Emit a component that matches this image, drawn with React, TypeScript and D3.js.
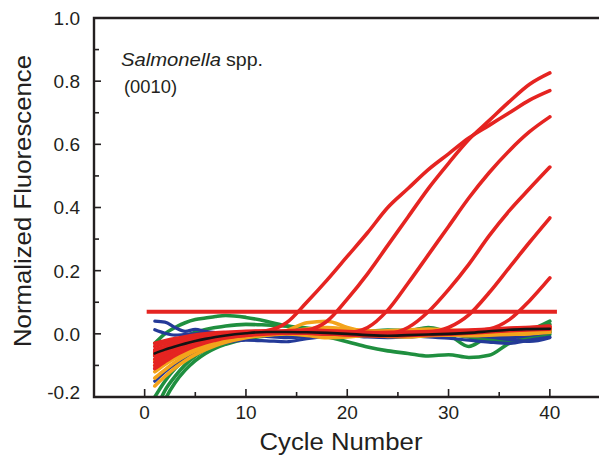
import React, { useEffect, useRef } from 'react';
import * as d3 from 'd3';

// Cycles at which each trace is sampled
const CYCLES = [1, 2, 3, 4, 5, 6, 7, 8, 10, 12, 14, 16, 18, 20, 22, 24, 26, 28, 30, 32, 34, 36, 38, 40];

// Amplifying (positive) traces
const RED_AMP = [
  [-0.04, -0.03, -0.02, -0.012, -0.006, -0.002, 0.0, 0.003, 0.006, 0.01, 0.035, 0.1, 0.17, 0.245, 0.32, 0.4, 0.46, 0.52, 0.57, 0.62, 0.66, 0.7, 0.74, 0.77],
  [-0.06, -0.045, -0.033, -0.023, -0.015, -0.008, -0.003, 0.0, 0.004, 0.006, 0.008, 0.012, 0.04, 0.11, 0.19, 0.28, 0.37, 0.46, 0.54, 0.615, 0.675, 0.735, 0.79, 0.826],
  [-0.05, -0.04, -0.03, -0.02, -0.012, -0.006, -0.002, 0.001, 0.004, 0.006, 0.005, 0.004, 0.003, 0.004, 0.02, 0.075, 0.16, 0.25, 0.34, 0.43, 0.51, 0.58, 0.64, 0.687],
  [-0.08, -0.062, -0.048, -0.036, -0.026, -0.018, -0.012, -0.007, -0.001, 0.003, 0.004, 0.003, 0.001, 0.0, -0.002, 0.0, 0.02, 0.07, 0.14, 0.22, 0.31, 0.39, 0.46, 0.528],
  [-0.07, -0.055, -0.043, -0.032, -0.023, -0.016, -0.01, -0.006, 0.0, 0.003, 0.004, 0.002, 0.0, -0.002, -0.003, -0.002, 0.0, 0.004, 0.02, 0.06, 0.13, 0.21, 0.29, 0.367],
  [-0.1, -0.08, -0.062, -0.047, -0.035, -0.025, -0.017, -0.011, -0.004, 0.001, 0.003, 0.002, 0.0, -0.003, -0.005, -0.004, -0.002, 0.0, 0.003, 0.008, 0.015, 0.045, 0.105, 0.177],
];

// Non-amplifying red traces
const RED_FLAT = [
  [-0.03, -0.022, -0.015, -0.009, -0.004, 0.0, 0.003, 0.005, 0.008, 0.009, 0.008, 0.006, 0.004, 0.003, 0.002, 0.004, 0.005, 0.007, 0.01, 0.012, 0.015, 0.018, 0.02, 0.022],
  [-0.055, -0.043, -0.032, -0.023, -0.016, -0.01, -0.005, -0.002, 0.002, 0.005, 0.006, 0.004, 0.001, -0.002, -0.004, -0.005, -0.004, -0.002, 0.0, 0.004, 0.008, 0.012, 0.014, 0.016],
  [-0.09, -0.072, -0.056, -0.043, -0.032, -0.023, -0.016, -0.01, -0.003, 0.002, 0.004, 0.003, 0.0, -0.003, -0.005, -0.006, -0.005, -0.003, -0.001, 0.002, 0.006, 0.01, 0.013, 0.015],
  [-0.11, -0.088, -0.068, -0.052, -0.039, -0.028, -0.02, -0.013, -0.005, 0.0, 0.003, 0.004, 0.002, 0.0, -0.002, -0.003, -0.001, 0.001, 0.003, 0.006, 0.01, 0.012, 0.016, 0.02],
  [-0.065, -0.05, -0.037, -0.027, -0.019, -0.012, -0.007, -0.003, 0.002, 0.006, 0.01, 0.012, 0.01, 0.007, 0.005, 0.004, 0.005, 0.006, 0.008, 0.01, 0.013, 0.016, 0.02, 0.025],
];

const ORANGE = [
  [-0.1, -0.08, -0.063, -0.049, -0.037, -0.027, -0.019, -0.013, -0.005, 0.0, 0.004, 0.006, 0.005, 0.002, 0.0, -0.002, 0.0, 0.003, 0.004, 0.006, 0.008, 0.01, 0.012, 0.014],
  [-0.12, -0.097, -0.077, -0.06, -0.046, -0.035, -0.025, -0.017, -0.007, 0.0, 0.01, 0.035, 0.04, 0.02, 0.005, -0.003, -0.005, -0.002, 0.002, 0.005, 0.008, 0.01, 0.015, 0.02],
  [-0.14, -0.114, -0.09, -0.07, -0.054, -0.04, -0.03, -0.022, -0.01, -0.004, 0.0, -0.005, -0.012, -0.01, -0.005, -0.008, -0.01, -0.006, -0.004, -0.002, 0.0, 0.003, 0.005, 0.008],
  [-0.165, -0.135, -0.108, -0.085, -0.066, -0.05, -0.037, -0.027, -0.012, -0.004, 0.002, 0.006, 0.008, 0.01, 0.008, 0.01, 0.012, 0.015, 0.012, 0.01, 0.012, 0.015, 0.018, 0.022],
  [-0.085, -0.068, -0.053, -0.04, -0.03, -0.022, -0.015, -0.01, -0.003, 0.002, 0.006, 0.015, 0.02, 0.015, 0.01, 0.006, 0.003, 0.0, -0.003, -0.006, -0.004, -0.002, 0.0, 0.005],
];

const GREEN = [
  [-0.03, 0.0, 0.02, 0.035, 0.045, 0.05, 0.055, 0.058, 0.052, 0.04, 0.025, 0.015, 0.01, 0.006, 0.008, 0.012, 0.01, 0.02, 0.006, 0.0, -0.004, 0.0, 0.012, 0.04],
  [-0.07, -0.045, -0.025, -0.008, 0.005, 0.014, 0.02, 0.025, 0.03, 0.028, 0.025, 0.018, 0.01, 0.004, 0.0, -0.002, 0.0, 0.002, -0.005, -0.04, -0.012, -0.028, -0.01, 0.01],
  [-0.25, -0.18, -0.135, -0.098, -0.07, -0.05, -0.036, -0.026, -0.013, -0.006, -0.002, -0.004, -0.01, -0.025, -0.042, -0.054, -0.062, -0.07, -0.066, -0.075, -0.068, -0.03, -0.012, -0.002],
  [-0.2, -0.15, -0.11, -0.08, -0.058, -0.042, -0.03, -0.021, -0.009, -0.002, 0.002, 0.0, -0.003, -0.006, -0.004, -0.002, 0.0, 0.004, 0.0, -0.01, -0.02, -0.025, -0.008, 0.005],
  [-0.3, -0.21, -0.155, -0.115, -0.085, -0.062, -0.045, -0.033, -0.016, -0.007, -0.002, 0.0, 0.003, 0.005, 0.008, 0.01, 0.005, 0.0, 0.002, 0.008, 0.005, 0.002, 0.006, 0.03],
];

const BLUE = [
  [0.04, 0.037, 0.02, 0.008, 0.014, 0.008, 0.004, 0.002, -0.004, -0.008, -0.012, -0.01, -0.006, -0.004, -0.002, 0.0, -0.004, -0.01, -0.014, -0.02, -0.026, -0.03, -0.02, -0.01],
  [0.013, 0.002, -0.004, -0.002, 0.0, 0.002, 0.003, 0.004, 0.003, 0.0, -0.004, -0.002, 0.002, 0.004, 0.0, -0.002, 0.0, 0.002, 0.004, 0.0, -0.008, -0.012, -0.005, 0.005],
  [-0.15, -0.12, -0.095, -0.074, -0.058, -0.046, -0.036, -0.028, -0.02, -0.022, -0.025, -0.015, -0.008, -0.006, -0.01, -0.012, -0.01, -0.006, -0.004, -0.006, -0.01, -0.018, -0.024, -0.012],
  [-0.11, -0.09, -0.07, -0.055, -0.042, -0.032, -0.024, -0.018, -0.01, -0.004, 0.0, 0.004, 0.006, 0.004, 0.002, 0.004, 0.006, 0.004, 0.0, -0.004, -0.006, -0.003, 0.0, 0.006],
];

// Mean of the negative traces
const MEAN = [-0.062, -0.05, -0.04, -0.031, -0.023, -0.016, -0.01, -0.005, 0.002, 0.006, 0.006, 0.005, 0.003, 0.0, -0.004, -0.006, -0.004, -0.002, 0.0, 0.003, 0.008, 0.013, 0.015, 0.016];

const THRESHOLD = 0.07;
const THRESHOLD_SPAN = [0.2, 40.7];

const X_TICKS = [0, 10, 20, 30, 40];
const X_MINOR = [5, 15, 25, 35];
const Y_TICKS = [-0.2, 0.0, 0.2, 0.4, 0.6, 0.8, 1.0];
const Y_MINOR = [-0.1, 0.1, 0.3, 0.5, 0.7, 0.9];

const W = 599;
const H = 457;
const FONT = "'Liberation Sans', Arial, Helvetica, sans-serif";
const AXIS = '#231f20';
const COLORS = {
  red: '#e52421',
  orange: '#f3a41c',
  green: '#1f8f3f',
  blue: '#243a98',
  black: '#141414',
};

// hyphen-minus for negative tick labels
const fmtTick = (v: number) => d3.format('.1f')(v).replace('\u2212', '-');

export default function App() {
  const ref = useRef<SVGSVGElement>(null);

  useEffect(() => {
    const svg = d3.select(ref.current);
    svg.selectAll('*').remove();

    const x = d3.scaleLinear().domain([-5, 45]).range([94, 600.5]);
    const y = d3.scaleLinear().domain([-0.2, 1.0]).range([397, 18]);

    svg.append('defs')
      .append('clipPath')
      .attr('id', 'plot-clip')
      .append('rect')
      .attr('x', 94)
      .attr('y', 18)
      .attr('width', W - 94)
      .attr('height', 397 - 18);

    const line = d3
      .line<number>()
      .x((_, i) => x(CYCLES[i]))
      .y((d) => y(d))
      .curve(d3.curveMonotoneX);

    const plot = svg.append('g').attr('clip-path', 'url(#plot-clip)');

    const drawGroup = (series: number[][], color: string, width: number) => {
      plot
        .append('g')
        .selectAll('path')
        .data(series)
        .join('path')
        .attr('d', (d) => line(d))
        .attr('fill', 'none')
        .attr('stroke', color)
        .attr('stroke-width', width)
        .attr('stroke-linejoin', 'round')
        .attr('stroke-linecap', 'round');
    };

    drawGroup(GREEN, COLORS.green, 3.6);
    drawGroup(BLUE, COLORS.blue, 3.2);
    drawGroup(ORANGE, COLORS.orange, 3.6);
    drawGroup(RED_FLAT, COLORS.red, 3.6);
    drawGroup(RED_AMP, COLORS.red, 3.6);
    drawGroup([MEAN], COLORS.black, 2.6);

    // threshold
    plot
      .append('line')
      .attr('x1', x(THRESHOLD_SPAN[0]))
      .attr('x2', x(THRESHOLD_SPAN[1]))
      .attr('y1', y(THRESHOLD))
      .attr('y2', y(THRESHOLD))
      .attr('stroke', COLORS.red)
      .attr('stroke-width', 4);

    // frame
    const frame = svg.append('g').attr('stroke', AXIS).attr('stroke-width', 2.4).attr('fill', 'none');
    frame.append('path').attr('d', `M${W},${y(1.0)}H${x(-5)}V${y(-0.2)}H${W}`);

    // ticks (inside)
    const ticks = svg.append('g').attr('stroke', AXIS).attr('stroke-width', 1.6);
    X_TICKS.forEach((t) => {
      ticks.append('line').attr('x1', x(t)).attr('x2', x(t)).attr('y1', y(-0.2)).attr('y2', y(-0.2) - 8);
    });
    X_MINOR.forEach((t) => {
      ticks.append('line').attr('x1', x(t)).attr('x2', x(t)).attr('y1', y(-0.2)).attr('y2', y(-0.2) - 5);
    });
    Y_TICKS.forEach((t) => {
      ticks.append('line').attr('x1', x(-5)).attr('x2', x(-5) + 7).attr('y1', y(t)).attr('y2', y(t));
    });
    Y_MINOR.forEach((t) => {
      ticks.append('line').attr('x1', x(-5)).attr('x2', x(-5) + 5).attr('y1', y(t)).attr('y2', y(t));
    });

    const labels = svg.append('g').attr('font-family', FONT).attr('fill', '#231f20');
    Y_TICKS.forEach((t) => {
      labels
        .append('text')
        .attr('x', 80)
        .attr('y', y(t) + (t === -0.2 ? -5 : 0))
        .attr('dy', '0.36em')
        .attr('text-anchor', 'end')
        .attr('font-size', 19)
        .text(fmtTick(t));
    });
    X_TICKS.forEach((t) => {
      labels
        .append('text')
        .attr('x', x(t))
        .attr('y', 419)
        .attr('text-anchor', 'middle')
        .attr('font-size', 19)
        .text(String(t));
    });

    labels
      .append('text')
      .attr('x', 341)
      .attr('y', 450)
      .attr('text-anchor', 'middle')
      .attr('font-size', 23)
      .attr('textLength', 163)
      .attr('lengthAdjust', 'spacingAndGlyphs')
      .text('Cycle Number');

    labels
      .append('text')
      .attr('transform', 'translate(31,201) rotate(-90)')
      .attr('text-anchor', 'middle')
      .attr('font-size', 24)
      .attr('textLength', 292)
      .attr('lengthAdjust', 'spacingAndGlyphs')
      .text('Normalized Fluorescence');

    labels
      .append('text')
      .attr('x', 121)
      .attr('y', 66)
      .attr('font-size', 17.5)
      .attr('font-style', 'italic')
      .attr('textLength', 100)
      .attr('lengthAdjust', 'spacingAndGlyphs')
      .text('Salmonella');
    labels
      .append('text')
      .attr('x', 226)
      .attr('y', 66)
      .attr('font-size', 17.5)
      .attr('textLength', 37)
      .attr('lengthAdjust', 'spacingAndGlyphs')
      .text('spp.');

    labels
      .append('text')
      .attr('x', 124)
      .attr('y', 93)
      .attr('font-size', 17.5)
      .attr('textLength', 53)
      .attr('lengthAdjust', 'spacingAndGlyphs')
      .text('(0010)');
  }, []);

  return (
    <svg
      ref={ref}
      width={W}
      height={H}
      style={{ position: 'absolute', left: 0, top: 0, background: '#ffffff' }}
    />
  );
}
